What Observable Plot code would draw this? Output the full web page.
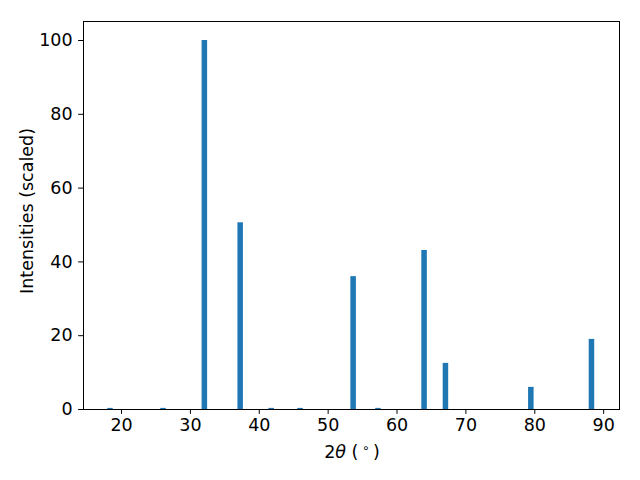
<!DOCTYPE html>
<html>
<head>
<meta charset="utf-8">
<script src="https://cdn.jsdelivr.net/npm/d3@7"></script>
<script src="https://cdn.jsdelivr.net/npm/@observablehq/plot@0.6"></script>
<style>
  html, body { margin: 0; padding: 0; background: #fff; }
  #chart svg { display: block; }
</style>
</head>
<body>
<div id="chart"></div>
<script>
const angles = [18.4, 26.1, 32.1, 37.3, 41.8, 46.0, 53.7, 57.3, 64.0, 67.1, 79.5, 88.3];
const intensities = [0.3, 0.3, 100, 50.6, 0.3, 0.3, 36.0, 0.3, 43.1, 12.5, 6.0, 19.0];
const xTicks = [20, 30, 40, 50, 60, 70, 80, 90];
const yTicks = [0, 20, 40, 60, 80, 100];
const barWidth = 0.8;

const data = angles.map((a, i) => ({ x1: a - barWidth / 2, x2: a + barWidth / 2, y: intensities[i] }));

const fontSize = 17.5;
const chart = Plot.plot({
  width: 640,
  height: 480,
  marginLeft: 83,
  marginRight: 21,
  marginTop: 21,
  marginBottom: 71,
  style: { fontFamily: "DejaVu Sans", fontSize: fontSize + "px", color: "#000", background: "#fff" },
  x: { domain: [14.48, 92.3] },
  y: { domain: [0, 105.15] },
  marks: [
    Plot.rectY(data, { x1: "x1", x2: "x2", y: "y", fill: "#1f77b4" }),
    Plot.axisX({ ticks: xTicks, tickSize: 4.86, tickPadding: 4.2, label: null, fontSize: fontSize, stroke: "#000" }),
    Plot.axisY({ ticks: yTicks, tickSize: 4.86, tickPadding: 6, label: null, fontSize: fontSize, stroke: "#000" }),
    Plot.frame({ stroke: "#000", strokeWidth: 1 })
  ]
});
document.getElementById("chart").appendChild(chart);

const svg = d3.select(chart);

const xl = svg.append("text")
  .attr("x", 352)
  .attr("y", 458)
  .attr("text-anchor", "middle")
  .attr("font-family", "DejaVu Sans")
  .attr("font-size", fontSize)
  .attr("fill", "#000");
xl.append("tspan").text("2");
xl.append("tspan").attr("font-style", "italic").text("θ");
xl.append("tspan").text(" (\u2009");
xl.append("tspan").attr("font-size", fontSize * 0.7).attr("dy", "-0.5em").text("∘");
xl.append("tspan").attr("dy", "0.35em").text("\u2009)");

svg.append("text")
  .attr("transform", "translate(33, 211) rotate(-90)")
  .attr("text-anchor", "middle")
  .attr("font-family", "DejaVu Sans")
  .attr("font-size", fontSize)
  .attr("fill", "#000")
  .text("Intensities (scaled)");
</script>
</body>
</html>
